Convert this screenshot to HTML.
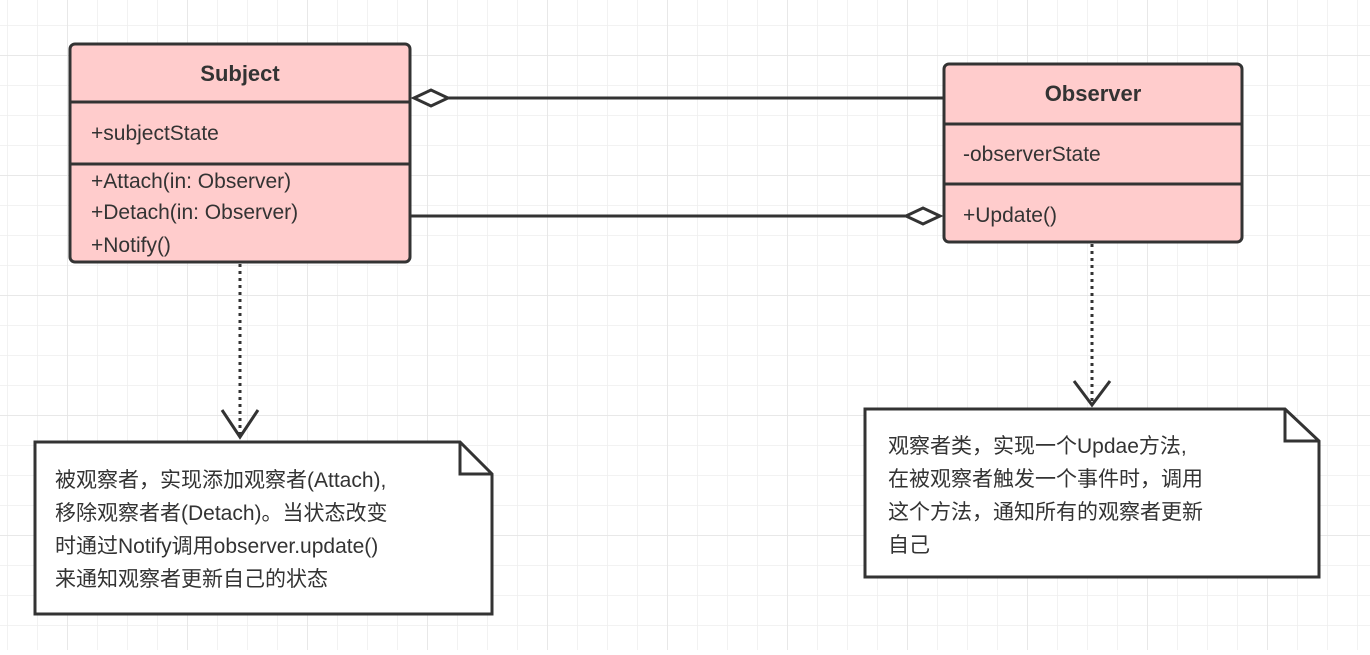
<!DOCTYPE html>
<html><head><meta charset="utf-8"><style>
body{margin:0;background:#fff;}
svg text{font-family:"Liberation Sans","Noto Sans CJK SC",sans-serif;fill:#333;}
</style></head><body>
<svg width="1370" height="650" viewBox="0 0 1370 650" xmlns="http://www.w3.org/2000/svg">
<defs>
<pattern id="g" x="7" y="25" width="30" height="30" patternUnits="userSpaceOnUse">
<path d="M0 0H30M0 0V30" stroke="#eeeeee" stroke-width="1.5" fill="none"/>
</pattern>
<pattern id="G" x="67" y="55" width="120" height="120" patternUnits="userSpaceOnUse">
<path d="M0 0H120M0 0V120" stroke="#e4e4e4" stroke-width="1.5" fill="none"/>
</pattern>
</defs>
<rect width="1370" height="650" fill="url(#g)"/>
<rect width="1370" height="650" fill="url(#G)"/>

<!-- connectors -->
<line x1="446" y1="98" x2="944" y2="98" stroke="#333" stroke-width="3"/>
<polygon points="414,98 431,90 448,98 431,106" fill="#fff" stroke="#333" stroke-width="3"/>
<line x1="410" y1="216" x2="906" y2="216" stroke="#333" stroke-width="3"/>
<polygon points="940,216 923,208 906,216 923,224" fill="#fff" stroke="#333" stroke-width="3"/>

<line x1="240" y1="264" x2="240" y2="436" stroke="#333" stroke-width="3" stroke-dasharray="3,4"/>
<polyline points="222,410 240,437 258,410" fill="none" stroke="#333" stroke-width="3"/>
<line x1="1092" y1="244" x2="1092" y2="403" stroke="#333" stroke-width="3" stroke-dasharray="3,4"/>
<polyline points="1074,381 1092,405 1110,381" fill="none" stroke="#333" stroke-width="3"/>

<!-- Subject -->
<rect x="70" y="44" width="340" height="218" rx="5" fill="#ffcccc" stroke="#333" stroke-width="3"/>
<line x1="70" y1="102" x2="410" y2="102" stroke="#333" stroke-width="3"/>
<line x1="70" y1="164" x2="410" y2="164" stroke="#333" stroke-width="3"/>
<text x="240" y="81" font-size="22" font-weight="bold" text-anchor="middle">Subject</text>
<text x="91" y="140" font-size="21">+subjectState</text>
<text x="91" y="188" font-size="21">+Attach(in: Observer)</text>
<text x="91" y="219" font-size="21">+Detach(in: Observer)</text>
<text x="91" y="252" font-size="21">+Notify()</text>

<!-- Observer -->
<rect x="944" y="64" width="298" height="178" rx="5" fill="#ffcccc" stroke="#333" stroke-width="3"/>
<line x1="944" y1="124" x2="1242" y2="124" stroke="#333" stroke-width="3"/>
<line x1="944" y1="184" x2="1242" y2="184" stroke="#333" stroke-width="3"/>
<text x="1093" y="101" font-size="22" font-weight="bold" text-anchor="middle">Observer</text>
<text x="963" y="161" font-size="21">-observerState</text>
<text x="963" y="222" font-size="21">+Update()</text>

<!-- Note 1 -->
<path d="M35 442H460L492 474V614H35Z" fill="#fff" stroke="#333" stroke-width="3"/>
<path d="M460 442V474H492" fill="none" stroke="#333" stroke-width="3"/>
<text font-size="21">
<tspan x="55" y="487">被观察者，实现添加观察者(Attach),</tspan>
<tspan x="55" y="520">移除观察者者(Detach)。当状态改变</tspan>
<tspan x="55" y="553">时通过Notify调用observer.update()</tspan>
<tspan x="55" y="586">来通知观察者更新自己的状态</tspan>
</text>

<!-- Note 2 -->
<path d="M865 409H1285L1319 441V577H865Z" fill="#fff" stroke="#333" stroke-width="3"/>
<path d="M1285 409V441H1319" fill="none" stroke="#333" stroke-width="3"/>
<text font-size="21">
<tspan x="888" y="453">观察者类，实现一个Updae方法,</tspan>
<tspan x="888" y="486">在被观察者触发一个事件时，调用</tspan>
<tspan x="888" y="519">这个方法，通知所有的观察者更新</tspan>
<tspan x="888" y="552">自己</tspan>
</text>
</svg>
</body></html>
